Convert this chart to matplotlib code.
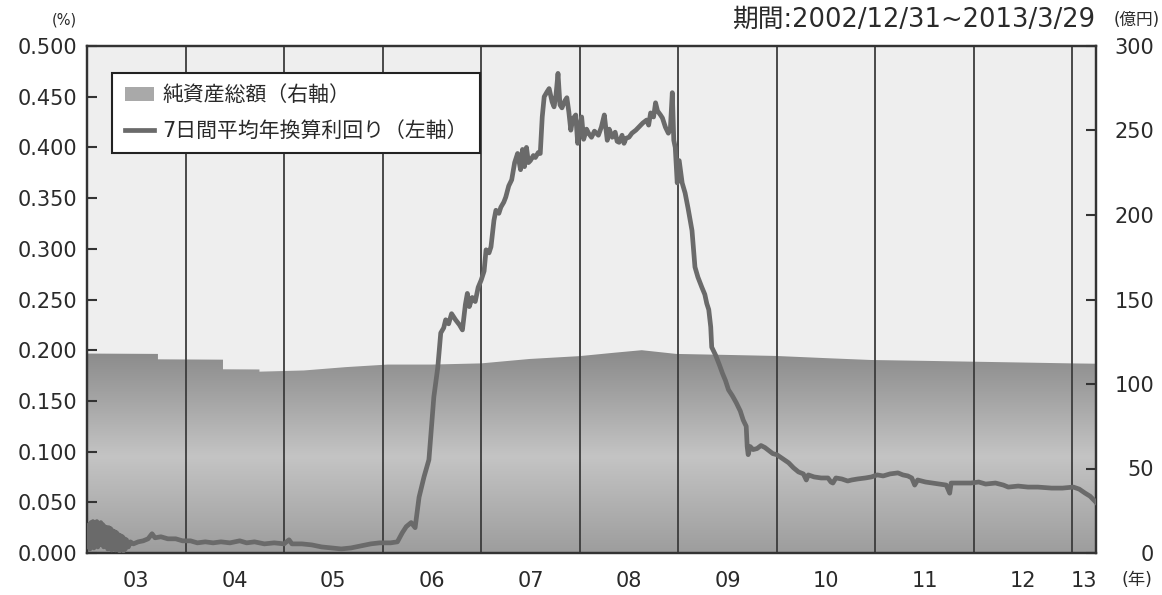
import numpy as np
import matplotlib
matplotlib.use("Agg")
import matplotlib.pyplot as plt
from matplotlib.colors import LinearSegmentedColormap
from matplotlib.patches import Patch
from matplotlib.lines import Line2D

plt.rcParams['font.family'] = ['DejaVu Sans', 'Noto Sans CJK JP']

# 純資産総額 (億円, right axis) - decimal year
asset_t = [2003.00, 2003.01, 2003.72, 2003.72, 2004.38, 2004.38, 2004.75, 2004.75,
           2005.20, 2005.63, 2006.05, 2006.50, 2007.00, 2007.49, 2008.00, 2008.35,
           2008.63, 2008.98, 2009.50, 2009.99, 2010.50, 2010.96, 2011.50, 2011.99,
           2012.50, 2012.99, 2013.24]
asset_v = [119.5, 118.0, 117.8, 114.6, 114.4, 108.7, 108.6, 107.3,
           108.0, 110.0, 111.5, 111.5, 112.2, 114.8, 116.5, 118.5,
           120.0, 117.8, 117.2, 116.6, 115.3, 114.2, 113.7, 113.2,
           112.7, 112.2, 112.0]

# 7日間平均年換算利回り (%, left axis)
yield_t = [2003.00, 2003.01, 2003.02, 2003.03, 2003.04, 2003.05, 2003.06, 2003.07,
           2003.08, 2003.09, 2003.10, 2003.11, 2003.12, 2003.13, 2003.14, 2003.15,
           2003.16, 2003.17, 2003.18, 2003.19, 2003.20, 2003.21, 2003.22, 2003.23,
           2003.24, 2003.25, 2003.26, 2003.27, 2003.28, 2003.29, 2003.30, 2003.31,
           2003.32, 2003.33, 2003.34, 2003.35, 2003.36, 2003.37, 2003.38, 2003.39,
           2003.40, 2003.42, 2003.44, 2003.47, 2003.52, 2003.57,
           2003.62, 2003.66, 2003.69, 2003.75, 2003.82, 2003.90, 2003.97,
           2004.05, 2004.12, 2004.20, 2004.28, 2004.36, 2004.45, 2004.55, 2004.62,
           2004.70, 2004.80, 2004.90,
           2005.00, 2005.05, 2005.08, 2005.18, 2005.28, 2005.38, 2005.48, 2005.58,
           2005.68, 2005.78, 2005.88, 2005.97,
           2006.08, 2006.15, 2006.20, 2006.24, 2006.29, 2006.33, 2006.37, 2006.42,
           2006.47, 2006.52, 2006.56, 2006.59, 2006.62, 2006.64, 2006.67, 2006.70,
           2006.74, 2006.78, 2006.81, 2006.84, 2006.86, 2006.88, 2006.91, 2006.94,
           2006.97, 2007.00,
           2007.03, 2007.05, 2007.08, 2007.10, 2007.13, 2007.15, 2007.18, 2007.20,
           2007.23, 2007.25, 2007.28, 2007.31, 2007.34, 2007.37, 2007.40, 2007.42,
           2007.44, 2007.46, 2007.48, 2007.50, 2007.53, 2007.55, 2007.58, 2007.60,
           2007.62, 2007.64, 2007.67, 2007.69, 2007.72, 2007.74, 2007.76, 2007.78,
           2007.80, 2007.82, 2007.85, 2007.87, 2007.89, 2007.91, 2007.93, 2007.96,
           2007.98,
           2008.00, 2008.02, 2008.04, 2008.07, 2008.09, 2008.12, 2008.15, 2008.19,
           2008.22, 2008.25, 2008.28, 2008.30, 2008.33, 2008.36, 2008.38, 2008.40,
           2008.43, 2008.45, 2008.47, 2008.50, 2008.53, 2008.57, 2008.60, 2008.64,
           2008.68, 2008.70, 2008.72, 2008.75, 2008.77, 2008.79, 2008.82, 2008.84,
           2008.87, 2008.90, 2008.92, 2008.94, 2008.955, 2008.97, 2008.99,
           2009.01, 2009.04, 2009.07, 2009.10, 2009.14, 2009.17, 2009.20, 2009.24,
           2009.27, 2009.29, 2009.31, 2009.33, 2009.34, 2009.38, 2009.42, 2009.45,
           2009.48, 2009.51, 2009.55, 2009.59, 2009.63, 2009.66, 2009.69, 2009.70,
           2009.71, 2009.73, 2009.76, 2009.80, 2009.84, 2009.88, 2009.92, 2009.96,
           2010.00,
           2010.06, 2010.12, 2010.17, 2010.22, 2010.27, 2010.30, 2010.32, 2010.38,
           2010.45, 2010.52, 2010.55, 2010.57, 2010.60, 2010.66, 2010.72, 2010.76,
           2010.82, 2010.90, 2010.96,
           2011.02, 2011.08, 2011.15, 2011.23, 2011.28, 2011.33, 2011.37, 2011.40,
           2011.43, 2011.51, 2011.58, 2011.65, 2011.72, 2011.755, 2011.77, 2011.85,
           2011.97,
           2012.05, 2012.12, 2012.22, 2012.30, 2012.35, 2012.45, 2012.55, 2012.65,
           2012.79, 2012.90,
           2013.01, 2013.07, 2013.13, 2013.18, 2013.24]
yield_v = [0.018, 0.006, 0.028, 0.004, 0.030, 0.008, 0.031, 0.005,
           0.030, 0.010, 0.031, 0.006, 0.029, 0.012, 0.030, 0.008,
           0.028, 0.006, 0.026, 0.010, 0.025, 0.004, 0.025, 0.007,
           0.024, 0.003, 0.022, 0.006, 0.021, 0.003, 0.020, 0.005,
           0.018, 0.002, 0.017, 0.004, 0.016, 0.002, 0.014, 0.004,
           0.013, 0.006, 0.011, 0.009, 0.011, 0.012,
           0.014, 0.019, 0.015, 0.016, 0.014, 0.014, 0.012,
           0.012, 0.010, 0.011, 0.010, 0.011, 0.010, 0.012, 0.010,
           0.011, 0.009, 0.010,
           0.009, 0.013, 0.009, 0.009, 0.008, 0.006, 0.005, 0.004,
           0.005, 0.007, 0.009, 0.010,
           0.010, 0.011, 0.020, 0.026, 0.030, 0.025, 0.055, 0.075,
           0.092, 0.154, 0.183, 0.217, 0.222, 0.230, 0.226, 0.236,
           0.230, 0.225, 0.220, 0.245, 0.256, 0.243, 0.252, 0.248,
           0.262, 0.269,
           0.278, 0.299, 0.296, 0.302, 0.328, 0.338, 0.335, 0.341,
           0.346, 0.351, 0.362, 0.368, 0.385, 0.394, 0.378, 0.398,
           0.381, 0.400, 0.385, 0.387, 0.392, 0.390, 0.395, 0.394,
           0.430, 0.450, 0.455, 0.458, 0.445, 0.440, 0.452, 0.473,
           0.442, 0.439, 0.446, 0.449, 0.435, 0.417, 0.428, 0.432,
           0.404,
           0.420, 0.430, 0.408, 0.418, 0.414, 0.410, 0.416, 0.412,
           0.420, 0.432, 0.407, 0.418, 0.410, 0.415, 0.406, 0.405,
           0.412, 0.404, 0.409, 0.410, 0.414, 0.417, 0.420, 0.424,
           0.427, 0.422, 0.434, 0.430, 0.444, 0.436, 0.432, 0.429,
           0.420, 0.414, 0.418, 0.454, 0.407, 0.400, 0.365,
           0.387, 0.365, 0.355, 0.340, 0.318, 0.282, 0.272, 0.262,
           0.255, 0.246, 0.240, 0.223, 0.203, 0.195, 0.185, 0.177,
           0.170, 0.161, 0.155, 0.148, 0.140, 0.131, 0.125, 0.105,
           0.097, 0.105, 0.102, 0.103, 0.106, 0.104, 0.101, 0.098,
           0.097,
           0.093, 0.089, 0.084, 0.080, 0.078, 0.072, 0.077, 0.075,
           0.074, 0.074, 0.070, 0.069, 0.074, 0.073, 0.071, 0.072,
           0.073, 0.074, 0.075,
           0.077, 0.076, 0.078, 0.079, 0.077, 0.076, 0.074, 0.067,
           0.072, 0.070, 0.069, 0.068, 0.067, 0.059, 0.069, 0.069,
           0.069,
           0.070, 0.068, 0.069, 0.067, 0.065, 0.066, 0.065, 0.065,
           0.064, 0.064,
           0.065, 0.063, 0.059, 0.056, 0.050]

year_lines = [2004, 2005, 2006, 2007, 2008, 2009, 2010, 2011, 2012, 2013]
year_pos = [2003.5, 2004.5, 2005.5, 2006.5, 2007.5, 2008.5, 2009.5, 2010.5, 2011.5, 2012.5, 2013.12]
year_lbl = ['03', '04', '05', '06', '07', '08', '09', '10', '11', '12', '13']

t0, t1 = 2003.0, 2013.24
txt = '#2a2a2a'

fig = plt.figure(figsize=(11.62, 5.95), dpi=100)
ax = fig.add_axes([87/1162, 42/595, 1009/1162, 507/595])
ax.set_facecolor('#eeeeee')

# gradient fill for net assets
cmap = LinearSegmentedColormap.from_list('g', [(0, '#9d9d9d'), (0.47, '#c4c4c4'), (1.0, '#898989')])
poly = ax.fill_between(asset_t, 0, asset_v, facecolor='none', edgecolor='none')
grad = np.linspace(0, 1, 256).reshape(-1, 1)
im = ax.imshow(grad, cmap=cmap, extent=[t0, t1, 0, 121], origin='lower', aspect='auto', zorder=1)
im.set_clip_path(poly.get_paths()[0], transform=ax.transData)

for yl in year_lines:
    ax.axvline(yl, color='#3c3c3c', lw=1.3, zorder=2)

ax.set_xlim(t0, t1)
ax.set_ylim(0, 300)
ax.set_xticks(year_pos)
ax.set_xticklabels(year_lbl)
ax.tick_params(axis='x', length=0, labelsize=15, labelcolor=txt, pad=13)

ax2 = ax.twinx()
ax.yaxis.tick_right()
ax2.yaxis.tick_left()

ax.set_yticks(range(0, 301, 50))
ax.tick_params(axis='y', direction='in', length=7, width=1.5, color='#333333',
               labelsize=15, labelcolor=txt, pad=42)
for lab in ax.get_yticklabels():
    lab.set_horizontalalignment('right')

ax2.plot(yield_t, yield_v, color='#6a6a6a', lw=3.4, zorder=3)
ax2.set_ylim(0, 0.5)
ax2.set_yticks(np.arange(0, 0.501, 0.05))
ax2.set_yticklabels(['%.3f' % v for v in np.arange(0, 0.501, 0.05)])
ax2.tick_params(axis='y', direction='in', length=7, width=1.5, color='#333333',
                labelsize=15, labelcolor=txt, pad=7)

for a in (ax, ax2):
    for s in a.spines.values():
        s.set_color('#333333')
        s.set_linewidth(1.6)

handles = [Patch(facecolor='#a9a9a9', edgecolor='none'),
           Line2D([], [], color='#6a6a6a', lw=3.4)]
labels = ['純資産総額（右軸）', '7日間平均年換算利回り（左軸）']
leg = ax2.legend(handles, labels, loc='upper left', bbox_to_anchor=(0.025, 0.947),
                 borderaxespad=0, fancybox=False, framealpha=1, edgecolor='#222222',
                 fontsize=15, handlelength=1.4, borderpad=0.6, labelspacing=0.75,
                 handletextpad=0.4)
leg.get_frame().set_linewidth(1.5)
for t in leg.get_texts():
    t.set_color(txt)

fig.text(77/1162, 1 - 20/595, '(%)', ha='right', va='center', fontsize=10.5, color=txt)
fig.text(1160/1162, 1 - 20/595, '(億円)', ha='right', va='center', fontsize=12, color=txt)
fig.text(1095/1162, 1 - 20/595, '期間:2002/12/31~2013/3/29', ha='right', va='center',
         fontsize=18.5, color=txt)
fig.text(1137/1162, 1 - 580/595, '(年)', ha='center', va='center', fontsize=12.5, color=txt)

fig.savefig('out.png', dpi=100)
